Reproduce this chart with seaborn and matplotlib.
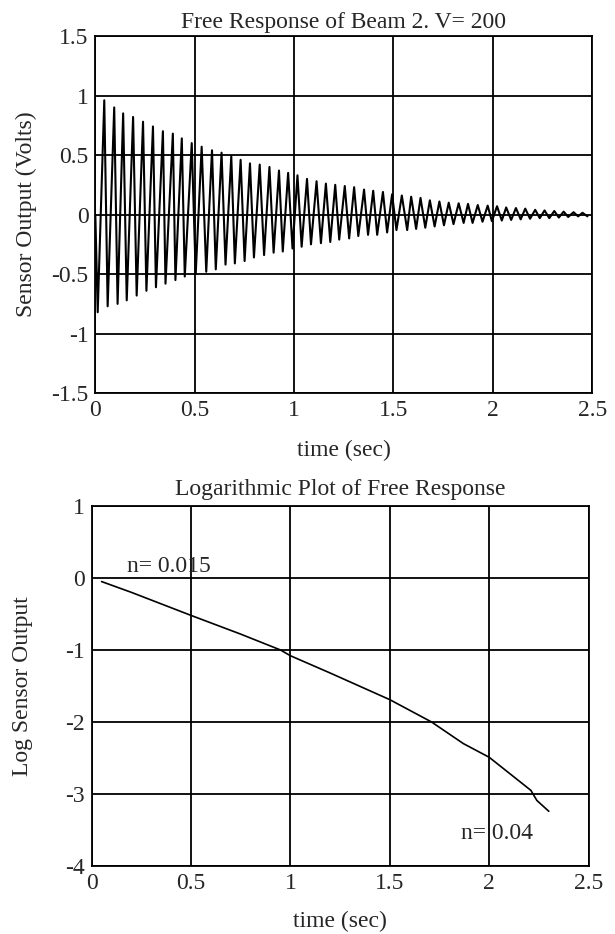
import matplotlib
matplotlib.use("Agg")
import pandas as pd
import seaborn as sns
import matplotlib.pyplot as plt

# --- top plot: free response, peaks and troughs ---
peak_t = [0.045, 0.095, 0.14, 0.19, 0.24, 0.29, 0.34, 0.39, 0.435, 0.485,
          0.535, 0.587, 0.635, 0.684, 0.731, 0.778, 0.827, 0.876, 0.924, 0.97,
          1.017, 1.065, 1.113, 1.16, 1.207, 1.255, 1.302, 1.352, 1.398, 1.447,
          1.493, 1.542, 1.589, 1.636, 1.683, 1.731, 1.778, 1.828, 1.875, 1.924,
          1.974, 2.021, 2.067, 2.116, 2.163, 2.213, 2.26, 2.309, 2.356, 2.406,
          2.451]
peak_v = [0.96, 0.90, 0.85, 0.82, 0.78, 0.74, 0.70, 0.68, 0.64, 0.60,
          0.57, 0.54, 0.52, 0.49, 0.46, 0.43, 0.42, 0.40, 0.37, 0.35,
          0.33, 0.30, 0.28, 0.26, 0.25, 0.24, 0.23, 0.21, 0.20, 0.19,
          0.17, 0.16, 0.15, 0.14, 0.12, 0.11, 0.10, 0.095, 0.09, 0.08,
          0.075, 0.07, 0.06, 0.055, 0.05, 0.04, 0.035, 0.03, 0.025, 0.02,
          0.015]
trough_t = [0.012, 0.062, 0.112, 0.158, 0.208, 0.257, 0.305, 0.353, 0.403, 0.45,
            0.505, 0.558, 0.606, 0.655, 0.702, 0.751, 0.798, 0.849, 0.897, 0.943,
            0.992, 1.038, 1.085, 1.135, 1.182, 1.227, 1.277, 1.323, 1.372, 1.418,
            1.468, 1.515, 1.569, 1.614, 1.66, 1.707, 1.754, 1.802, 1.853, 1.898,
            1.948, 1.995, 2.045, 2.092, 2.14, 2.187, 2.236, 2.284, 2.332, 2.379,
            2.429, 2.476]
trough_v = [-0.82, -0.77, -0.75, -0.72, -0.68, -0.64, -0.61, -0.58, -0.55, -0.52,
            -0.50, -0.48, -0.46, -0.42, -0.41, -0.39, -0.36, -0.34, -0.32, -0.31,
            -0.285, -0.27, -0.25, -0.24, -0.23, -0.21, -0.20, -0.18, -0.17, -0.17,
            -0.15, -0.13, -0.13, -0.12, -0.11, -0.10, -0.09, -0.08, -0.07, -0.07,
            -0.06, -0.055, -0.05, -0.045, -0.04, -0.035, -0.03, -0.03, -0.025, -0.02,
            -0.015, -0.015]
start_t = [0.0]
start_v = [0.0]

# --- bottom plot: log of the envelope ---
log_t = [0.05, 0.2, 0.5, 0.75, 0.95, 1.0, 1.2, 1.5, 1.71, 1.87, 2.0, 2.21, 2.24, 2.30]
log_v = [-0.05, -0.2, -0.52, -0.78, -1.0, -1.08, -1.32, -1.69, -2.0, -2.30, -2.49, -2.95, -3.09, -3.24]

sns.set_style("white")
plt.rcParams['font.family'] = ['Liberation Serif', 'DejaVu Serif']
plt.rcParams['axes.unicode_minus'] = False
fs = 17

fig = plt.figure(figsize=(6.15, 9.34), dpi=100)
ax1 = fig.add_axes([0.155, 0.579, 0.808, 0.3825])
ax2 = fig.add_axes([0.149, 0.0728, 0.808, 0.3855])

resp = pd.DataFrame({'t': start_t + peak_t + trough_t,
                     'v': start_v + peak_v + trough_v}).sort_values('t')
sns.lineplot(data=resp, x='t', y='v', ax=ax1, color='black', lw=1.5, sort=True)

logdf = pd.DataFrame({'t': log_t, 'v': log_v})
sns.lineplot(data=logdf, x='t', y='v', ax=ax2, color='black', lw=1.2)

ax1.set_xlim(0, 2.5)
ax1.set_ylim(-1.5, 1.5)
ax1.set_xticks([0, 0.5, 1, 1.5, 2, 2.5])
ax1.set_xticklabels(['0', '0.5', '1', '1.5', '2', '2.5'])
ax1.set_yticks([-1.5, -1, -0.5, 0, 0.5, 1, 1.5])
ax1.set_yticklabels(['-1.5', '-1', '-0.5', '0', '0.5', '1', '1.5'])
ax1.set_title('Free Response of Beam 2. V= 200', fontsize=fs, pad=6)
ax1.set_xlabel('time (sec)', fontsize=fs)
ax1.set_ylabel('Sensor Output (Volts)', fontsize=fs)

ax2.set_xlim(0, 2.5)
ax2.set_ylim(-4, 1)
ax2.set_xticks([0, 0.5, 1, 1.5, 2, 2.5])
ax2.set_xticklabels(['0', '0.5', '1', '1.5', '2', '2.5'])
ax2.set_yticks([-4, -3, -2, -1, 0, 1])
ax2.set_yticklabels(['-4', '-3', '-2', '-1', '0', '1'])
ax2.set_title('Logarithmic Plot of Free Response', fontsize=fs, pad=8)
ax2.set_xlabel('time (sec)', fontsize=fs)
ax2.set_ylabel('Log Sensor Output', fontsize=fs)
ax2.text(0.18, 0.08, 'n= 0.015', fontsize=fs, ha='left', va='baseline')
ax2.text(1.86, -3.62, 'n= 0.04', fontsize=fs, ha='left', va='baseline')

for ax in (ax1, ax2):
    ax.grid(True, color='black', lw=1.3)
    ax.set_axisbelow(True)
    ax.tick_params(length=0, pad=5, labelsize=fs)
    for s in ax.spines.values():
        s.set_color('black')
        s.set_linewidth(1.3)
    ax.yaxis.set_label_coords(-0.117, 0.5)
ax1.xaxis.set_label_coords(0.5, -0.13)
ax2.xaxis.set_label_coords(0.5, -0.125)

plt.savefig("out.png", dpi=100)
